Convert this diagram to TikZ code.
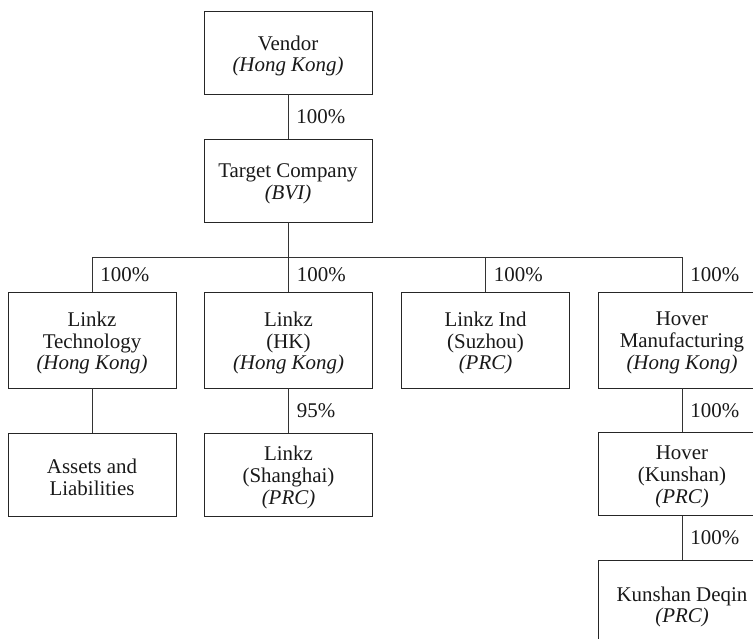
\documentclass[tikz,border=0pt]{standalone}
\usepackage{fontspec}
\setmainfont{Liberation Serif}
\begin{document}
\begin{tikzpicture}[x=1bp,y=-1bp,
  entity/.style={draw=black!85, line width=0.9bp, minimum width=168bp, inner sep=0pt},
  tall/.style={entity, minimum height=96bp},
  short/.style={entity, minimum height=83bp},
  txt/.style={align=center, inner sep=0pt, font=\fontsize{21}{22}\selectfont, text=black!90},
  link/.style={draw=black!80, line width=0.9bp},
  pct/.style={font=\fontsize{21}{22}\selectfont, text=black!90, anchor=west, inner sep=0pt, xshift=8bp}]
\clip (0,0) rectangle (753,639);
\fill[white] (0,0) rectangle (753,639);
\node[short] (vendor) at (288,52.5) {};
\node[short] (target) at (288,180.5) {};
\node[tall] (tech) at (92,340) {};
\node[tall] (hk) at (288.5,340) {};
\node[tall] (ind) at (485.5,340) {};
\node[tall] (hover) at (682,340) {};
\node[short] (assets) at (92,474.5) {};
\node[short] (shanghai) at (288.5,474.5) {};
\node[short] (kunshan) at (682,474) {};
\node[entity, minimum height=90bp] (deqin) at (682,605) {};
\node[txt] (vendor-t) at ([yshift=-3.5bp]vendor.center) {Vendor\\\textit{(Hong Kong)}};
\node[txt] (target-t) at ([yshift=-3.5bp]target.center) {Target Company\\\textit{(BVI)}};
\node[txt] (tech-t) at ([yshift=-3bp]tech.center) {Linkz\\Technology\\\textit{(Hong Kong)}};
\node[txt] (hk-t) at ([yshift=-3bp]hk.center) {Linkz\\(HK)\\\textit{(Hong Kong)}};
\node[txt] (ind-t) at ([yshift=-3bp]ind.center) {Linkz Ind\\(Suzhou)\\\textit{(PRC)}};
\node[txt] (hover-t) at ([yshift=-3bp]hover.center) {Hover\\Manufacturing\\\textit{(Hong Kong)}};
\node[txt] (assets-t) at ([yshift=-3bp]assets.center) {Assets and\\Liabilities};
\node[txt] (shanghai-t) at ([yshift=-3bp]shanghai.center) {Linkz\\(Shanghai)\\\textit{(PRC)}};
\node[txt] (kunshan-t) at ([yshift=-3bp]kunshan.center) {Hover\\(Kunshan)\\\textit{(PRC)}};
\node[txt] (deqin-t) at ([yshift=-2bp]deqin.center) {Kunshan Deqin\\\textit{(PRC)}};
\coordinate (bus) at (target.south |- 0,257);
\coordinate (busL) at (tech.north |- 0,257);
\coordinate (busR) at (hover.north |- 0,257);
\coordinate (busHK) at (hk.north |- 0,257);
\coordinate (busInd) at (ind.north |- 0,257);
\path[link] (vendor.south) -- node[pct]{100\%} (target.north);
\path[link] (target.south) -- (bus);
\path[link] (busL) -- (busR);
\path[link] (busL) -- node[pct]{100\%} (tech.north);
\path[link] (busHK) -- node[pct]{100\%} (hk.north);
\path[link] (busInd) -- node[pct]{100\%} (ind.north);
\path[link] (busR) -- node[pct]{100\%} (hover.north);
\path[link] (tech.south) -- (assets.north);
\path[link] (hk.south) -- node[pct]{95\%} (shanghai.north);
\path[link] (hover.south) -- node[pct]{100\%} (kunshan.north);
\path[link] (kunshan.south) -- node[pct]{100\%} (deqin.north);
\end{tikzpicture}
\end{document}
